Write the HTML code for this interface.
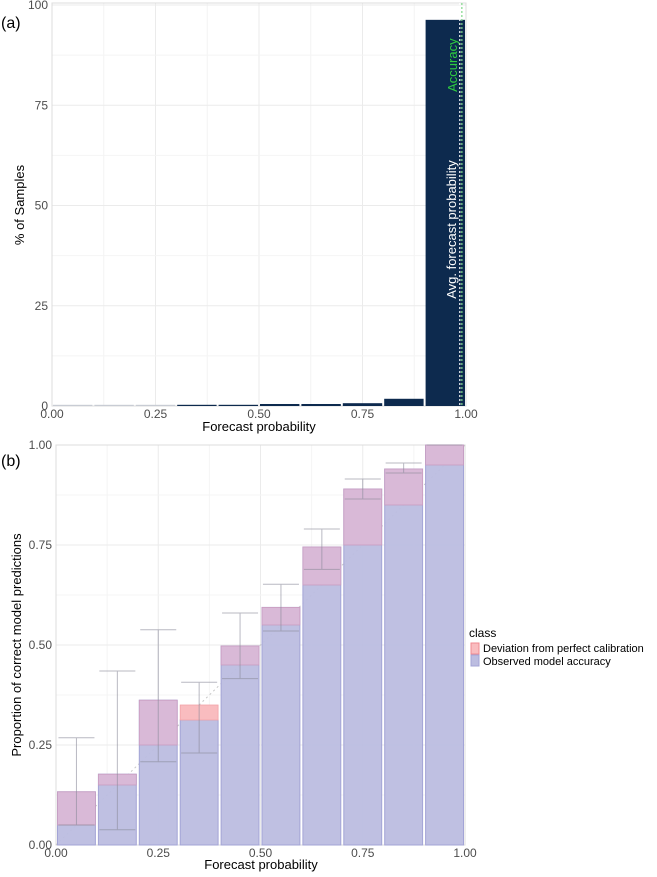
<!DOCTYPE html>
<html><head><meta charset="utf-8"><style>
body{margin:0;background:#fff;}
svg text{font-family:"Liberation Sans",sans-serif;}
</style></head><body>
<svg id="chart" width="657" height="872" xmlns="http://www.w3.org/2000/svg">
<g id="topPanel"></g>
<g id="botPanel"></g>
</svg>
<script>
const binStarts=[0,0.1,0.2,0.3,0.4,0.5,0.6,0.7,0.8,0.9];
const samplePct=[0.1,0.1,0.1,0.3,0.3,0.5,0.5,0.7,1.8,96.3];
const avgForecast=0.985;
const accuracy=0.99;
const topYTicks=[0,25,50,75,100];
const xTicks=[0,0.25,0.5,0.75,1];
const xTickLabels=["0.00","0.25","0.50","0.75","1.00"];
const observed=[0.133,0.177,0.362,0.3125,0.4975,0.594,0.745,0.89,0.94,1.0];
const errLow=[0.05,0.038,0.208,0.23,0.416,0.535,0.689,0.865,0.93,1.0];
const errHigh=[0.268,0.435,0.538,0.407,0.58,0.652,0.79,0.915,0.955,1.0];
const botYTicks=[0,0.25,0.5,0.75,1];
const botYLabels=["0.00","0.25","0.50","0.75","1.00"];

const NS="http://www.w3.org/2000/svg";
function mk(parent,tag,attrs,text){const e=document.createElementNS(NS,tag);for(const k in attrs)e.setAttribute(k,attrs[k]);if(text!==undefined)e.textContent=text;parent.appendChild(e);return e;}

// ---- panel a
const topG=document.getElementById('topPanel');
const ax=v=>52+v*414, ay=v=>406-v*4.01;
for(let i=0;i<=8;i++){const v=i/8;let l=mk(topG,'line',{x1:ax(v),x2:ax(v),y1:ay(100)-2,y2:ay(0),stroke:i%2?'#f4f4f4':'#ebebeb','stroke-width':1});
}
for(let i=0;i<=8;i++){const v=i*12.5;let l=mk(topG,'line',{x1:ax(0),x2:ax(1),y1:ay(v),y2:ay(v),stroke:i%2?'#f4f4f4':'#ebebeb','stroke-width':1});
}
let r0=mk(topG,'rect',{x:ax(0),y:ay(100)-2,width:414,height:ay(0)-ay(100)+2,fill:'none',stroke:'#dcdcdc'});

binStarts.forEach((b,i)=>{const h=Math.max(ay(0)-ay(samplePct[i]),1.2);
let r=mk(topG,'rect',{x:ax(b)+1,y:ay(0)-h,width:414*0.1-2,height:h,fill:i<3?'#c8ccd4':'#0d2a4e'});
});
let l1=mk(topG,'line',{x1:ax(avgForecast),x2:ax(avgForecast),y1:ay(100)-2,y2:ay(0),stroke:'#ffffff','stroke-width':1.2,'stroke-dasharray':'2,2'});

let l2=mk(topG,'line',{x1:ax(accuracy),x2:ax(accuracy),y1:ay(100)-2,y2:ay(0),stroke:'#7fd88a','stroke-width':1.2,'stroke-dasharray':'2,2'});

let t1=mk(topG,'text',{x:0,y:0,transform:`translate(${ax(avgForecast)-4},${ay(44)}) rotate(-90)`,'text-anchor':'middle','font-size':13,fill:'#ffffff'},'Avg. forecast probability');

let t2=mk(topG,'text',{x:0,y:0,transform:`translate(${ax(accuracy)-5},${ay(85)}) rotate(-90)`,'text-anchor':'middle','font-size':13,fill:'#2ecc40'},'Accuracy');

topYTicks.forEach(v=>{let t=mk(topG,'text',{x:48,y:ay(v)+4,'text-anchor':'end','font-size':12,fill:'#4d4d4d'},String(v));
});
xTicks.forEach((v,i)=>{let t=mk(topG,'text',{x:ax(v),y:418,'text-anchor':'middle','font-size':12,fill:'#4d4d4d'},xTickLabels[i]);
});
let tx=mk(topG,'text',{x:259,y:431,'text-anchor':'middle','font-size':13,fill:'#000'},'Forecast probability');

let ty=mk(topG,'text',{x:0,y:0,transform:'translate(24,205) rotate(-90)','text-anchor':'middle','font-size':13,fill:'#000'},'% of Samples');

let pa=mk(topG,'text',{x:1,y:28,'font-size':16,fill:'#000'},'(a)');


// ---- panel b
const botG=document.getElementById('botPanel');
const bx=v=>56+v*409, by=v=>845-v*400;
for(let i=0;i<=8;i++){const v=i/8;let l=mk(botG,'line',{x1:bx(v),x2:bx(v),y1:by(1),y2:by(0),stroke:i%2?'#f4f4f4':'#ebebeb'});

let m=mk(botG,'line',{x1:bx(0),x2:bx(1),y1:by(v),y2:by(v),stroke:i%2?'#f4f4f4':'#ebebeb'});
}
let r1=mk(botG,'rect',{x:bx(0),y:by(1),width:409,height:400,fill:'none',stroke:'#dcdcdc'});

let dg=mk(botG,'line',{x1:bx(0),y1:by(0),x2:bx(1),y2:by(1),stroke:'#c8c8c8','stroke-dasharray':'2,3'});

binStarts.forEach((b,i)=>{const mid=b+0.05,o=observed[i];const x=bx(b)+1.5,w=409*0.1-3;
let r=mk(botG,'rect',{x:x,y:by(o),width:w,height:by(0)-by(o),fill:'#bcbde0',stroke:'#a3a4d6','stroke-width':1,'fill-opacity':0.95});

const hi=Math.max(o,mid),lo=Math.min(o,mid);
let d=mk(botG,'rect',{x:x,y:by(hi),width:w,height:by(lo)-by(hi),fill:o>mid?'#d9b9d7':'#f9bcbf',stroke:o>mid?'#c99cc0':'#f2a3a8','stroke-width':0.8});

const cx=bx(mid);
let e=mk(botG,'path',{d:`M${cx},${by(errLow[i])}V${by(errHigh[i])}M${cx-18},${by(errHigh[i])}H${cx+18}M${cx-18},${by(errLow[i])}H${cx+18}`,stroke:'#8a8a9a','stroke-opacity':0.6,fill:'none','stroke-width':1});
});
botYTicks.forEach((v,i)=>{let t=mk(botG,'text',{x:52,y:by(v)+4,'text-anchor':'end','font-size':12,fill:'#4d4d4d'},botYLabels[i]);
});
xTicks.forEach((v,i)=>{let t=mk(botG,'text',{x:bx(v),y:857,'text-anchor':'middle','font-size':12,fill:'#4d4d4d'},xTickLabels[i]);
});
let bx1=mk(botG,'text',{x:261,y:869,'text-anchor':'middle','font-size':13,fill:'#000'},'Forecast probability');

let by1=mk(botG,'text',{x:0,y:0,transform:'translate(21,645) rotate(-90)','text-anchor':'middle','font-size':13,fill:'#000'},'Proportion of correct model predictions');

let pb=mk(botG,'text',{x:1,y:466,'font-size':16,fill:'#000'},'(b)');

const lg=mk(botG,'g',{});

let lt=mk(lg,'text',{x:469,y:637,'font-size':12,fill:'#000'},'class');

let k1=mk(lg,'rect',{x:471,y:643,width:8,height:11,fill:'#f9bcbf',stroke:'#f08a90'});

let e1=mk(lg,'text',{x:483,y:652,'font-size':11,fill:'#000'},'Deviation from perfect calibration');

let k2=mk(lg,'rect',{x:471,y:655,width:8,height:11,fill:'#bcbde0',stroke:'#a3a4d6'});

let e2=mk(lg,'text',{x:483,y:665,'font-size':11,fill:'#000'},'Observed model accuracy');

</script>
</body></html>
